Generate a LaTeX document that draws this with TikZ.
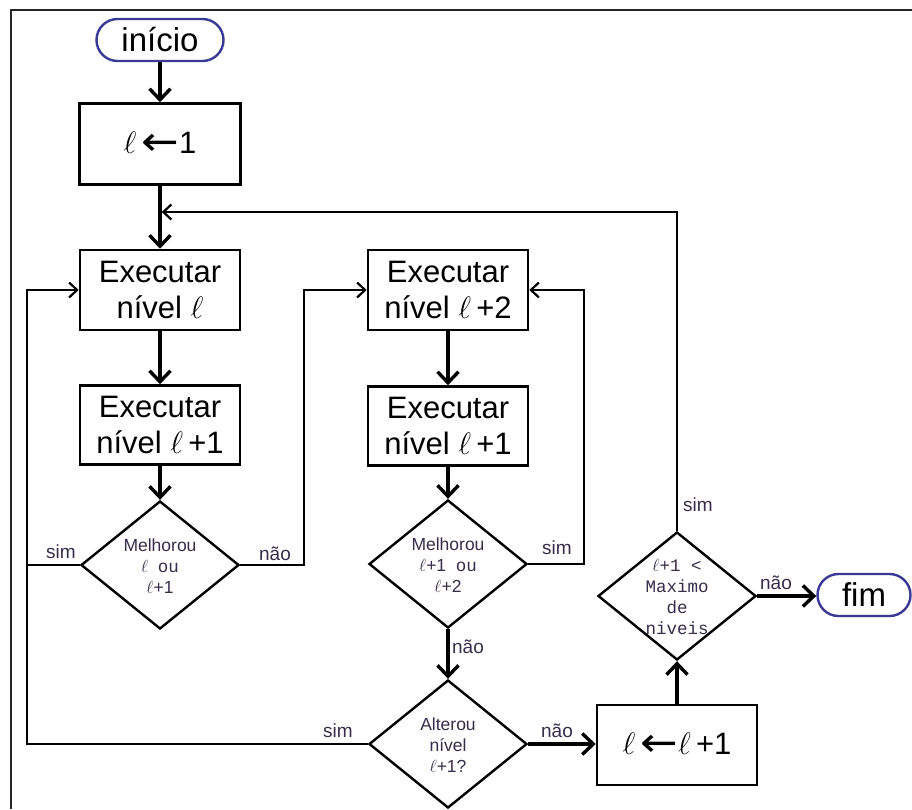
\RequirePackage{fix-cm}
\documentclass[tikz,border=0pt]{standalone}
\usepackage{fontspec}
\usepackage{graphicx}
\setmainfont{Liberation Sans}
\newfontfamily\monof{Liberation Mono}
\newfontfamily\dejavu{DejaVu Sans}
\usetikzlibrary{arrows.meta,shapes.geometric}
\definecolor{termblue}{RGB}{58,58,150}
\definecolor{lbl}{RGB}{55,45,75}
\newcommand{\larr}{\raisebox{-2pt}{\scalebox{1.45}[1.3]{\dejavu ←}}}
\begin{document}
\begin{tikzpicture}[x=1pt,y=-1pt,
  box/.style={draw,line width=2.6pt,minimum width=160pt,minimum height=80pt,inner sep=0pt,align=center,font=\fontsize{31}{36}\selectfont},
  term/.style={draw=termblue,line width=2.4pt,rounded corners=21pt,inner sep=0pt,minimum height=42pt,font=\fontsize{33}{38}\selectfont},
  dec/.style={draw,diamond,line width=2.4pt,minimum width=158pt,minimum height=128pt,inner sep=0pt},
  dtext/.style={align=center,font=\fontsize{17.5}{21}\selectfont,text=lbl,inner sep=0pt},
  lab/.style={font=\fontsize{19}{21}\selectfont,text=lbl,inner sep=0pt},
  bigarrow/.style={line width=3.4pt,-{Straight Barb[length=11pt,width=21pt]}},
  smallarrow/.style={line width=2.2pt,-{Straight Barb[length=8pt,width=15pt]}},
  plainline/.style={line width=2.2pt}
]
\useasboundingbox (0,0) rectangle (912,809);
\fill[white] (0,0) rectangle (912,809);
% frame
\draw[line width=2.4pt,black!85] (11,809) -- (11,10) -- (912,10);

% nodes
\node[term,minimum width=127pt] (start) at (160,40) {início};
\node[box,minimum width=161pt,minimum height=81pt] (b1) at (160,144) {$\ell\,$\larr1};
\node[box] (e1) at (160,290) {Executar\\nível $\ell$};
\node[box,minimum height=79pt] (e1b) at (160,425) {Executar\\nível $\ell$\,+1};
\node[dec] (d1) at (160,565) {};
\node[dtext] (d1t) at (160,566) {Melhorou\\$\ell$\ \ {\monof ou}\\$\ell$+1};

\node[box] (e2) at (448,290) {Executar\\nível $\ell$\,+2};
\node[box,minimum height=79pt] (e2b) at (448,426) {Executar\\nível $\ell$\,+1};
\node[dec] (d2) at (448,564) {};
\node[dtext] (d2t) at (448,565) {Melhorou\\$\ell$+1\ \ {\monof ou}\\$\ell$+2};

\node[dec] (d3) at (448,744) {};
\node[dtext] (d3t) at (448,745) {Alterou\\nível\\$\ell$+1?};

\node[box] (b2) at (677,745) {$\ell\,$\larr$\ell\,$+1};
\node[dec] (d4) at (677,596) {};
\node[dtext,font=\monof\fontsize{17.5}{21}\selectfont] (d4t) at (677,597) {$\ell$+1 <\\Maximo\\de\\niveis};
\node[term,minimum width=93pt] (fim) at (864,595) {fim};

% helper coordinates
\coordinate (lx) at (27,0);
\coordinate (rx1) at (304,0);
\coordinate (rx2) at (584,0);
\coordinate (jy) at (0,212);

% main flow
\draw[bigarrow] (start) -- (b1);
\draw[bigarrow] (b1) -- (e1);
\draw[bigarrow] (e1) -- (e1b);
\draw[bigarrow] (e1b) -- (d1);
\draw[bigarrow] (e2) -- (e2b);
\draw[bigarrow] (e2b) -- (d2);
\draw[bigarrow] (d2) -- (d3);
\draw[bigarrow] (d3.east) -- (d3.east -| b2.west);
\draw[bigarrow] (b2) -- (d4);
\draw[bigarrow] (d4.east) -- (d4.east -| fim.west);

% loops
\draw[plainline] (d1.west) -- (d1.west -| lx);
\draw[smallarrow] (d3.west) -- (d3.west -| lx) -- (e1.west -| lx) -- (e1.west);
\draw[smallarrow] (d1.east) -- (d1.east -| rx1) -- (e2.west -| rx1) -- (e2.west);
\draw[smallarrow] (d2.east) -- (d2.east -| rx2) -- (e2.east -| rx2) -- (e2.east);
\draw[smallarrow,shorten >=1.7pt] (d4.north) -- (d4.north |- jy) -- (b1.south |- jy);

% labels
\node[lab] (l1) at (61,552) {sim};
\node[lab] (l2) at (275,554) {não};
\node[lab] (l3) at (557,548) {sim};
\node[lab] (l4) at (468,647) {não};
\node[lab] (l5) at (338,731) {sim};
\node[lab] (l6) at (557,731) {não};
\node[lab] (l7) at (698,505) {sim};
\node[lab] (l8) at (776,583) {não};
\end{tikzpicture}
\end{document}
